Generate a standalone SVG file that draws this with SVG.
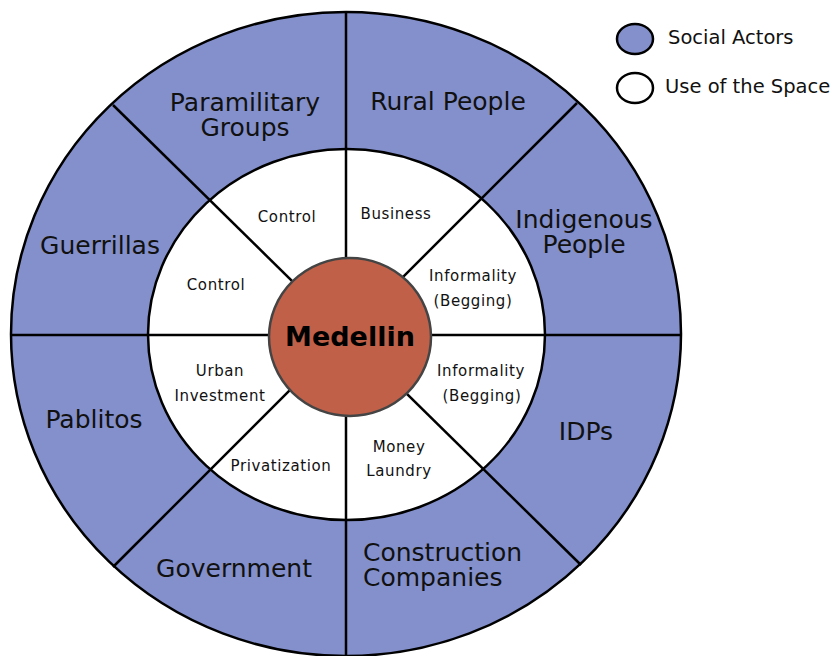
<svg xmlns="http://www.w3.org/2000/svg" width="840" height="656" viewBox="0 0 840 656">
<style>
.actor{fill:#8490cc;stroke:#000;stroke-width:2.5}
.space{fill:#fff;stroke:#000;stroke-width:2.5}
.div{stroke:#000;stroke-width:2.5;fill:none}
.big{font-family:"DejaVu Sans","Verdana",sans-serif;font-size:25px;fill:#111;text-anchor:middle}
.small{font-family:"DejaVu Sans","Tahoma",sans-serif;font-size:15px;fill:#111;text-anchor:middle;letter-spacing:0.6px}
.leg{font-family:"DejaVu Sans","Verdana",sans-serif;font-size:19.5px;fill:#111}
</style>
<rect width="840" height="656" fill="#fff"/>
<g id="ring-actors"><ellipse class="actor" cx="346" cy="334" rx="335" ry="322"/></g>
<g id="ring-space"><ellipse class="space" cx="346.5" cy="334.5" rx="198.5" ry="185.5"/></g>
<g id="connectors">
<line class="div" x1="11" y1="335" x2="681" y2="335"/>
<line class="div" x1="346" y1="12" x2="346" y2="656"/>
<line class="div" x1="113" y1="105" x2="581" y2="565"/>
<line class="div" x1="577" y1="103" x2="113" y2="567"/>
</g>
<g id="medellin">
<ellipse cx="350" cy="337" rx="81" ry="79" fill="#c16048" stroke="#444" stroke-width="2.5"/>
<text x="350" y="346" font-family="DejaVu Sans, Verdana, sans-serif" font-size="27" font-weight="bold" text-anchor="middle" fill="#000">Medellin</text>
</g>
<g id="rural-people"><text class="big" x="448" y="110">Rural People</text></g>
<g id="paramilitary-groups"><text class="big" x="245" y="111">Paramilitary</text><text class="big" x="245" y="136">Groups</text></g>
<g id="guerrillas"><text class="big" x="100" y="254">Guerrillas</text></g>
<g id="indigenous-people"><text class="big" x="584" y="228">Indigenous</text><text class="big" x="584" y="253">People</text></g>
<g id="pablitos"><text class="big" x="94" y="428">Pablitos</text></g>
<g id="idps"><text class="big" x="586" y="440">IDPs</text></g>
<g id="government"><text class="big" x="234" y="577">Government</text></g>
<g id="construction-companies"><text class="big" x="363" y="561" text-anchor="start" style="text-anchor:start">Construction</text><text class="big" x="363" y="586" style="text-anchor:start">Companies</text></g>
<g id="control-1"><text class="small" x="287" y="222">Control</text></g>
<g id="control-2"><text class="small" x="216" y="290">Control</text></g>
<g id="business"><text class="small" x="396" y="219">Business</text></g>
<g id="informality-1"><text class="small" x="473" y="281">Informality</text><text class="small" x="473" y="306">(Begging)</text></g>
<g id="informality-2"><text class="small" x="481" y="376">Informality</text><text class="small" x="482" y="401">(Begging)</text></g>
<g id="urban-investment"><text class="small" x="220" y="376">Urban</text><text class="small" x="220" y="401">Investment</text></g>
<g id="privatization"><text class="small" x="281" y="471">Privatization</text></g>
<g id="money-laundry"><text class="small" x="399" y="452">Money</text><text class="small" x="399" y="476">Laundry</text></g>
<g id="legend">
<ellipse cx="635" cy="39" rx="18" ry="15" fill="#8490cc" stroke="#000" stroke-width="2.5"/>
<text class="leg" x="668" y="44">Social Actors</text>
<ellipse cx="635" cy="88" rx="18" ry="15" fill="#fff" stroke="#000" stroke-width="2.5"/>
<text class="leg" x="665" y="93">Use of the Space</text>
</g>
</svg>
